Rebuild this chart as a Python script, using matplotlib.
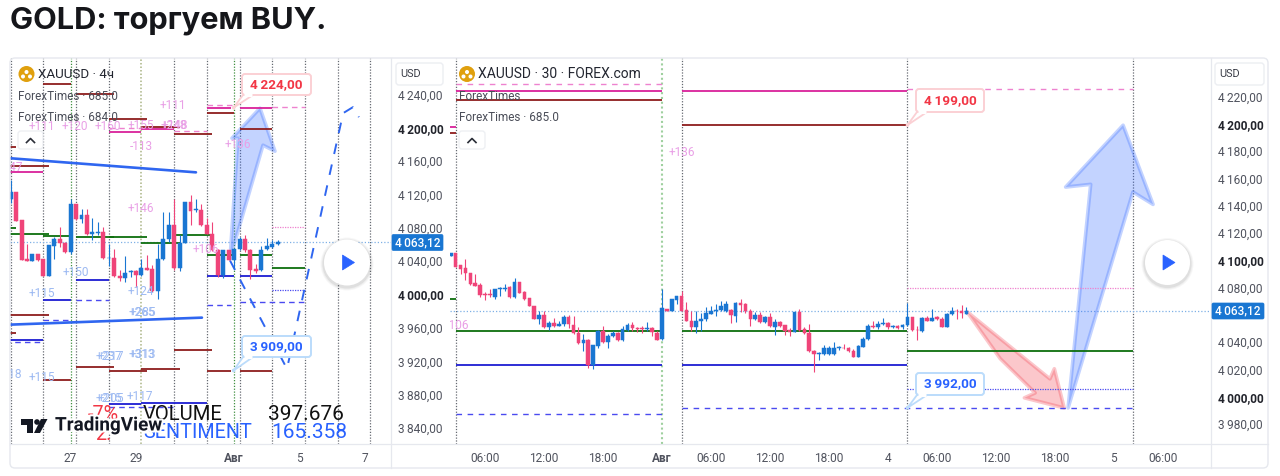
import matplotlib
matplotlib.use("Agg")
import matplotlib.pyplot as plt
import matplotlib.patheffects as pe
from matplotlib.patches import FancyBboxPatch, Polygon, Circle

plt.rcParams['font.family'] = ['Roboto', 'DejaVu Sans']

# ---------- data: left chart (4h) ----------
L_OPEN = [4114.9,4122.9,4088.9,4042.1,4040.1,4048.1,4042.1,4021.7,4058.1,4066.1,4061.7,4050.9,4108.9,4090.9,4094.9,4072.9,4074.1,4074.9,4043.3,4044.1,4022.1,4020.1,4027.3,4027.7,4023.7,4032.1,4030.9,4004.9,4042.1,4066.9,4083.7,4032.1,4061.7,4110.9,4100.9,4101.7,4082.9,4072.9,4052.9,4022.9,4052.9,4041.7,4054.9,4066.9,4053.7,4030.9,4028.9,4054.1,4056.9,4060.9]
L_HIGH = [4136.9,4122.9,4088.9,4060.9,4048.1,4048.9,4042.1,4058.9,4068.9,4080.9,4062.5,4114.9,4108.9,4102.9,4102.9,4092.1,4086.9,4080.9,4060.9,4054.9,4028.9,4045.7,4029.7,4028.9,4042.9,4046.9,4034.9,4060.9,4098.9,4098.9,4114.9,4070.9,4110.9,4119.7,4114.9,4108.9,4092.1,4086.9,4054.9,4052.9,4053.7,4054.9,4068.9,4070.9,4054.9,4036.1,4057.7,4068.1,4065.7,4064.9]
L_LOW = [4109.7,4088.1,4040.9,4039.7,4040.1,4040.1,4021.7,4021.7,4042.9,4056.9,4049.7,4048.9,4089.7,4085.7,4070.9,4064.9,4070.9,4042.9,4033.7,4020.9,4016.9,4014.9,4020.9,4009.7,4021.7,4028.9,4002.9,3994.9,4040.9,4062.9,4028.9,4028.1,4061.7,4082.9,4098.9,4082.1,4072.1,4052.1,4020.9,4020.1,4040.9,4032.1,4053.7,4050.9,4018.9,4025.7,4028.1,4052.9,4056.1,4059.7]
L_CLOSE = [4122.9,4088.1,4040.9,4039.7,4048.1,4040.9,4021.7,4058.9,4066.1,4061.7,4050.9,4108.9,4090.9,4094.9,4072.9,4074.9,4074.9,4043.7,4044.1,4021.7,4020.1,4026.1,4028.1,4023.7,4031.7,4029.7,4004.9,4042.9,4066.9,4083.7,4032.1,4061.7,4110.9,4100.1,4102.1,4082.9,4072.9,4052.9,4022.9,4052.9,4041.7,4054.9,4066.9,4053.7,4029.7,4028.1,4053.7,4057.7,4060.1,4063.12]

# ---------- data: right chart (30m); first bar sits at index -1 ----------
R_OPEN = [4103.5,4105.7,4096.2,4094.2,4091.0,4083.7,4081.7,4075.1,4075.1,4073.4,4079.0,4079.3,4080.3,4072.9,4084.2,4076.8,4072.2,4066.6,4057.3,4060.2,4050.9,4054.3,4052.1,4053.1,4058.2,4052.9,4046.5,4039.6,4041.9,4023.5,4037.5,4048.5,4039.9,4044.3,4046.5,4041.9,4049.2,4052.9,4050.4,4050.2,4049.9,4050.2,4047.0,4042.1,4064.6,4062.6,4071.0,4073.9,4063.4,4055.8,4051.4,4055.3,4056.8,4060.9,4062.6,4063.6,4063.1,4063.6,4059.5,4068.5,4068.0,4063.1,4056.8,4060.2,4054.6,4058.7,4051.4,4054.8,4052.6,4048.9,4047.5,4062.2,4049.7,4046.5,4033.8,4031.3,4031.6,4031.3,4031.1,4035.5,4036.0,4036.0,4033.3,4029.4,4036.7,4042.3,4051.9,4051.1,4053.3,4054.3,4050.9,4051.6,4050.9,4052.4,4058.2,4049.2,4048.0,4057.8,4055.8,4058.2,4057.3,4051.4,4060.4,4063.1,4062.6,4060.9]
R_HIGH = [4105.7,4105.7,4096.9,4101.0,4091.0,4090.0,4083.7,4076.6,4079.0,4079.3,4080.7,4082.7,4081.5,4087.1,4084.2,4077.8,4072.2,4066.6,4063.1,4063.1,4055.8,4057.8,4055.8,4059.7,4060.2,4059.2,4050.9,4046.0,4042.3,4038.2,4048.9,4052.1,4046.0,4048.0,4047.2,4052.1,4053.8,4054.6,4051.4,4051.9,4054.6,4051.4,4048.5,4079.0,4064.6,4071.7,4073.9,4077.8,4069.2,4062.6,4062.6,4061.2,4066.1,4066.8,4068.0,4070.5,4070.5,4064.4,4069.5,4071.7,4068.5,4064.4,4061.9,4061.9,4059.2,4061.2,4057.0,4055.8,4052.9,4050.4,4062.2,4064.4,4051.4,4053.3,4034.3,4032.6,4037.9,4037.5,4039.9,4037.5,4038.7,4036.7,4035.0,4038.2,4043.6,4053.3,4055.3,4055.3,4057.8,4054.8,4052.6,4052.6,4053.3,4068.5,4058.7,4052.1,4058.2,4059.5,4064.4,4059.5,4058.2,4061.2,4066.1,4064.4,4067.5,4066.1]
R_LOW = [4103.2,4095.4,4090.0,4085.6,4082.2,4081.2,4072.9,4071.0,4073.4,4071.7,4074.1,4077.8,4072.4,4072.4,4075.9,4071.0,4066.6,4057.3,4053.3,4050.4,4048.9,4051.4,4051.9,4052.1,4050.4,4046.0,4038.7,4033.8,4021.5,4020.3,4035.7,4039.6,4035.7,4043.6,4041.1,4041.1,4048.0,4048.5,4047.2,4047.0,4048.5,4044.8,4041.6,4041.9,4062.6,4062.6,4068.0,4062.6,4055.3,4048.5,4046.5,4048.5,4055.8,4060.7,4059.5,4063.1,4061.9,4053.8,4054.6,4061.9,4061.2,4052.1,4056.3,4054.1,4054.3,4051.4,4045.5,4051.4,4045.3,4044.5,4047.2,4048.5,4046.0,4032.6,4018.1,4026.9,4030.9,4030.9,4030.9,4034.5,4035.0,4032.8,4028.9,4028.9,4036.2,4041.6,4050.4,4049.7,4052.9,4049.4,4050.4,4049.4,4049.7,4052.1,4048.5,4041.6,4047.5,4055.3,4055.3,4056.3,4050.9,4050.9,4060.2,4057.0,4057.8,4060.7]
R_CLOSE = [4105.2,4095.4,4093.7,4090.8,4082.7,4081.2,4074.9,4074.6,4074.6,4079.3,4079.5,4080.0,4072.9,4084.2,4076.1,4071.4,4066.6,4057.3,4060.2,4050.9,4054.3,4051.9,4053.3,4058.2,4053.1,4046.5,4039.6,4041.9,4023.5,4038.2,4048.5,4039.9,4044.3,4046.5,4041.6,4049.7,4052.9,4050.2,4049.9,4049.7,4050.4,4047.2,4041.9,4065.1,4062.6,4071.7,4073.9,4063.1,4055.8,4051.4,4055.8,4057.3,4061.2,4062.9,4063.6,4066.8,4068.0,4059.7,4068.5,4067.5,4062.6,4057.0,4060.2,4054.6,4058.7,4051.6,4054.6,4052.1,4048.0,4047.5,4062.2,4048.9,4046.5,4033.3,4031.1,4031.8,4035.5,4035.5,4035.5,4036.2,4035.5,4033.3,4029.4,4037.2,4042.3,4052.1,4050.9,4053.3,4054.3,4050.9,4051.6,4050.4,4052.4,4058.2,4048.9,4048.7,4057.8,4055.8,4058.0,4057.0,4051.4,4060.7,4063.1,4062.6,4061.2,4063.12]

LAST_PRICE = 4063.12

L_TIME_TICKS = [11, 23, 41, 53, 65]
L_TIME_LABELS = ['27', '29', 'Авг', '5', '7']
R_TIME_TICKS = [6, 18, 30, 42, 52, 64, 76, 88, 98, 110, 122, 134, 144]
R_TIME_LABELS = ['06:00', '12:00', '18:00', 'Авг', '06:00', '12:00', '18:00', '4', '06:00', '12:00', '18:00', '5', '06:00']
L_PRICE_TICKS = [3840, 3880, 3920, 3960, 4000, 4040, 4080, 4120, 4160, 4200, 4240]
L_PRICE_BOLD = [4000, 4200]
R_PRICE_TICKS = [3980, 4000, 4020, 4040, 4060, 4080, 4100, 4120, 4140, 4160, 4180, 4200, 4220]
R_PRICE_HIDE = [4060]
R_PRICE_BOLD = [4000, 4100, 4200]
L_SESSIONS = [0, 6, 12, 18, 30, 36, 42, 48, 54, 60, 66, 70]
L_SESSIONS_GREEN = [11, 41]
L_SESSIONS_OLIVE = [24]
R_SESSIONS = [0, 46, 92, 138]
R_SESSIONS_GREEN = [42]

# level segments: (first bar, last bar, price)
L_RED = [(6,11,4252.3),(12,19,4240.2),(18,25,4210.2),(24,31,4200.6),(30,37,4192.2),(-1,1,4176.6),(-1,7,4153.8),(36,41,4217.4),(42,48,4198.2),(-1,7,3976.0),(-1,1,3954.4),(12,19,3913.5),(18,25,3908.7),(24,31,3911.1),(30,37,3933.9),(36,40.5,3909),(42,48,3909),(6,11,3897.9)]
L_PINK = [(18,24,4194.6),(24,30,4198.2),(-1,6,4146.5),(36,40.5,4224),(42,48,4224)]
L_PINK_DASH = [(36,41,4227.0),(48,54,4224.6),(30,36,4195.8),(18,24,4199.4)]
L_PINK_DOT = [(48,54,4080.5)]
L_GREEN = [(-1,1,4079.3),(-1,7,4072.1),(6,11,4069.7),(12,19,4068.5),(18,25,4069.1),(24,31,4061.3),(30,36.5,4070.9),(36,41,4048.0),(42,48,4048.0),(48,54,4032.4)]
L_BLUE = [(12,18,4018.0),(6,11,3994.0),(-1,6,3945.9),(18,24,3869.1),(24,36,3870.3),(36,41,4022.8),(42,48,4022.8)]
L_BLUE_DASH = [(12,18,3994.0),(6,11,3970.0),(-1,6,3943.5),(18,30,3865.5),(36,40.5,3988.0),(42,54,3991.6)]
L_BLUE_DOT = [(48,54,4006.0)]
L_TRENDS = [((-0.12,34.0),(4163.4,4146.5)), ((-0.12,35.1),(3964.0,3972.4))]
L_PATH_X = [40.25, 50.7, 61.0, 62.8, 63.9]
L_PATH_Y = [4040.8, 3911.1, 4217.4, 4224.6, 4212.6]
L_ARROW_X = [40.25, 41.7, 40.6, 45.75, 48.5, 46.3]
L_ARROW_Y = [4043.0, 4187.4, 4187.4, 4223.4, 4171.8, 4179.0]

R_RED = [(0,42,4217.3),(46,92,4199),(-2,0,4193)]
R_PINK = [(0,42,4224),(46,92,4224),(-2,0,4197.4)]
R_PINK_DASH = [(0,42,4229.0),(92,138,4225.3)]
R_PINK_DOT = [(92,138,4080.0)]
R_GREEN = [(0,42,4048.4),(46,92,4048.4),(92,138,4033.8),(-2,0,4071.9)]
R_BLUE = [(0,42,4023.5),(46,92,4023.5)]
R_BLUE_DASH = [(0,42,3987.5),(46,138,3992)]
R_BLUE_DOT = [(92,138,4005.9)]
R_RED_ARROW_X = [104.1, 121.0, 121.9, 123.9, 115.8, 118.0, 110.9]
R_RED_ARROW_Y = [4062.4, 4013.2, 4020.6, 3991.9, 3999.3, 4002.9, 4027.9]
R_BLUE_ARROW_X = [124.7, 129.3, 124.2, 135.9, 142.0, 137.9]
R_BLUE_ARROW_Y = [3991.9, 4155.6, 4153.6, 4198.9, 4140.9, 4150.0]

# marker labels: (bar, price, text)
L_PINK_LABELS = [(29.8,4226,'+111'),(5.8,4201,'+111'),(11.8,4201,'+120'),(17.9,4201,'+160'),(23.9,4203,'+155'),(29.9,4203,'+248'),(30.1,4203,'+148'),(23.9,4177,'-113'),(41.7,4180,'+136'),(-0.2,4152,'+147'),(23.9,4103,'+146'),(35.8,4054,'+106')]
L_BLUE_LABELS = [(12,4026,'+150'),(5.8,4001,'+115'),(23.9,4004,'+124'),(24,3978,'+265'),(24.3,3978,'+285'),(18,3926,'+237'),(18.3,3926,'+217'),(24,3928,'+313'),(24.2,3928,'+313'),(-0.3,3904,'+118'),(5.8,3901,'+115'),(18,3875,'+215'),(18.3,3875,'+205'),(23.7,3878,'+117')]
R_PINK_LABELS = [(46,4179,'+136'),(0.1,4052.5,'+106')]

L_CALLOUT = [(40.9, 4224, '4 224,00'), (40.9, 3909, '3 909,00')]
R_CALLOUT = [(92, 4199, '4 199,00'), (92, 3992, '3 992,00')]

TITLE = 'GOLD: торгуем BUY.'

# ---------- styles ----------
UP, DOWN = '#1976d2', '#ef4479'
C_RED, C_PINK, C_GREEN, C_BLUE = '#8e1c1c', '#d9219a', '#0d6e0d', '#1c1cd2'
C_PINK_D, C_BLUE_D = '#ee82cf', '#4a4af0'
TXT, TXT2, AXC = '#3a3d47', '#50535e', '#e6e8ee'
ARROW_B, ARROW_R = '#2962ff', '#f23645'

W, H = 1280, 476
fig = plt.figure(figsize=(W/100, H/100), dpi=100, facecolor='white')

def box(x0, y0, x1, y1):
    return [x0/W, 1-y1/H, (x1-x0)/W, (y1-y0)/H]

def setup(ax, ticks, labels, pticks, bold, hide, xtick_font=8.6):
    for s in ax.spines.values():
        s.set_visible(False)
    ax.set_facecolor('none')
    ax.yaxis.tick_right()
    ax.set_xticks(ticks)
    ax.set_xticklabels(labels, fontsize=xtick_font, color=TXT2)
    for lab, t in zip(ax.get_xticklabels(), labels):
        if t == 'Авг':
            lab.set_fontweight('bold')
    show = [p for p in pticks if p not in hide]
    ax.set_yticks(show)
    ax.set_yticklabels([f'{p//1000}\u2009{p%1000:03d},00' for p in show], fontsize=8.6, color=TXT2)
    for lab, p in zip(ax.get_yticklabels(), show):
        if p in bold:
            lab.set_fontweight('bold')
            lab.set_color('#22242c')
    ax.tick_params(axis='both', length=0)
    ax.tick_params(axis='x', pad=6)
    ax.tick_params(axis='y', pad=4.6)

def candles(ax, start, o, h, l, c, w):
    xs = list(range(start, start+len(o)))
    cols = [UP if cc >= oo else DOWN for oo, cc in zip(o, c)]
    ax.vlines(xs, l, h, colors=cols, lw=0.8, zorder=5)
    ax.bar(xs, [cc-oo for oo, cc in zip(o, c)], bottom=o, width=w, color=cols,
           edgecolor=cols, lw=0.35, zorder=6)

def segs(ax, items, color, lw=1.3, ls='-', alpha=1, z=4):
    for a, b, p in items:
        ax.plot([a, b], [p, p], color=color, lw=lw, ls=ls, alpha=alpha, zorder=z,
                solid_capstyle='butt', dash_capstyle='butt')

def sessions(ax, xs, color='#666a72', lw=0.9, ls=(0, (1, 1.3))):
    for x in xs:
        ax.axvline(x, color=color, lw=lw, ls=ls, zorder=1)

def labels(ax, items, color):
    for x, p, t in items:
        ax.text(x, p, t, color=color, fontsize=8.6, ha='center', va='center', zorder=7, clip_on=True)

def arrow(ax, xs, ys, color):
    ax.add_patch(Polygon(list(zip(xs, ys)), closed=True, facecolor=color, alpha=0.28,
                         edgecolor='none', zorder=3))
    ax.add_patch(Polygon(list(zip(xs, ys)), closed=True, fill=False, edgecolor=color, alpha=0.28,
                         lw=2.6, joinstyle='round', zorder=3))

# ---------- left chart ----------
axL = fig.add_axes(box(10, 58, 392, 444))
axL.set_xlim(-0.12, 69.97)
axL.set_ylim(3821.0, 4283.5)
setup(axL, L_TIME_TICKS, L_TIME_LABELS, L_PRICE_TICKS, L_PRICE_BOLD, [])
sessions(axL, L_SESSIONS)
sessions(axL, L_SESSIONS_GREEN, color='#3f8f3f')
sessions(axL, L_SESSIONS_OLIVE, color='#aab485', lw=1.1)
axL.axhline(LAST_PRICE, color='#7fb0e6', lw=0.9, ls=(0, (1, 1.6)), zorder=2)
segs(axL, L_RED, C_RED); segs(axL, L_PINK, C_PINK); segs(axL, L_GREEN, C_GREEN); segs(axL, L_BLUE, C_BLUE)
segs(axL, L_PINK_DASH, C_PINK_D, 1.0, (0, (4, 3))); segs(axL, L_BLUE_DASH, C_BLUE_D, 1.0, (0, (4, 3)))
segs(axL, L_PINK_DOT, C_PINK_D, 0.9, (0, (1, 1))); segs(axL, L_BLUE_DOT, C_BLUE_D, 0.9, (0, (1, 1)))
for xs, ys in L_TRENDS:
    axL.plot(xs, ys, color='#2f66f0', lw=1.9, zorder=5, solid_capstyle='round')
axL.plot(L_PATH_X, L_PATH_Y, color='#2f66f0', lw=1.4, ls=(0, (5.5, 5.5)), zorder=5)
arrow(axL, L_ARROW_X, L_ARROW_Y, ARROW_B)
candles(axL, 0, L_OPEN, L_HIGH, L_LOW, L_CLOSE, 0.72)
labels(axL, L_PINK_LABELS, '#e9a0e6'); labels(axL, L_BLUE_LABELS, '#9dbaf2')

# ---------- right chart ----------
axR = fig.add_axes(box(450, 58, 1212, 444))
axR.set_xlim(-1.15, 154.0)
axR.set_ylim(3965.5, 4248.1)
setup(axR, R_TIME_TICKS, R_TIME_LABELS, R_PRICE_TICKS, R_PRICE_BOLD, R_PRICE_HIDE)
sessions(axR, R_SESSIONS)
sessions(axR, R_SESSIONS_GREEN, color='#9fd09f', lw=1.5)
axR.axhline(LAST_PRICE, color='#7fb0e6', lw=0.9, ls=(0, (1, 1.6)), zorder=2)
segs(axR, R_RED, C_RED); segs(axR, R_PINK, C_PINK); segs(axR, R_GREEN, C_GREEN); segs(axR, R_BLUE, C_BLUE)
segs(axR, R_PINK_DASH, C_PINK_D, 1.0, (0, (4, 4))); segs(axR, R_BLUE_DASH, C_BLUE_D, 1.0, (0, (4, 4)))
segs(axR, R_PINK_DOT, C_PINK_D, 0.9, (0, (1, 1))); segs(axR, R_BLUE_DOT, C_BLUE_D, 0.9, (0, (1, 1)))
arrow(axR, R_RED_ARROW_X, R_RED_ARROW_Y, ARROW_R)
arrow(axR, R_BLUE_ARROW_X, R_BLUE_ARROW_Y, ARROW_B)
candles(axR, -1, R_OPEN, R_HIGH, R_LOW, R_CLOSE, 0.74)
labels(axR, R_PINK_LABELS, '#e9a0e6')

# ---------- overlay in pixel space for the widget chrome ----------
ov = fig.add_axes([0, 0, 1, 1], zorder=10)
ov.set_xlim(0, W); ov.set_ylim(H, 0); ov.axis('off'); ov.patch.set_alpha(0)

def rbox(x0, y0, x1, y1, fc='white', ec=AXC, lw=1, r=3, z=2, alpha=1):
    ov.add_patch(FancyBboxPatch((x0+r, y0+r), x1-x0-2*r, y1-y0-2*r,
                                boxstyle=f'round,pad={r},rounding_size={r}',
                                fc=fc, ec=ec, lw=lw, zorder=z, alpha=alpha))

def to_px(ax, x, p):
    dx, dy = ax.transData.transform((x, p))
    return dx, H-dy

ov.text(10, 21, TITLE, fontsize=22.2, fontweight='bold', family=['Inter', 'DejaVu Sans'], color='#15161a', ha='left', va='center')

# frame
rbox(10, 58, 1268, 468, fc='none', ec=AXC, r=5, z=1)
ov.plot([10, 1268], [444, 444], color=AXC, lw=0.9, zorder=1)
ov.plot([391, 391], [58, 468], color=AXC, lw=0.9, zorder=1)
ov.plot([1211, 1211], [58, 468], color=AXC, lw=0.9, zorder=1)

# USD boxes and last price tags
for x0, x1 in [(396, 443), (1215, 1264)]:
    rbox(x0, 63, x1, 85, ec='#eceef2')
    ov.text(x0+4, 74, 'USD', fontsize=7.8, color=TXT, va='center', ha='left')
for x0, x1, yc in [(392, 443, 242.5), (1212, 1264, 311)]:
    rbox(x0, yc-8, x1, yc+8, fc=UP, ec=UP, lw=0.5, r=1.5, z=3)
    ov.text((x0+x1)/2, yc, '4\u2009063,12', fontsize=8.6, color='white', fontweight='medium',
            ha='center', va='center', zorder=4)

# legends
for cx, tx, name, fs in [(26.5, 38, 'XAUUSD · 4ч', 9.6), (467, 478, 'XAUUSD · 30 · FOREX.com', 10.0)]:
    ov.add_patch(Circle((cx, 74), 8, fc='#e0a00e', ec='none', zorder=3))
    ov.add_patch(Circle((cx, 72), 2, fc='white', ec='none', zorder=4))
    ov.add_patch(Circle((cx-3.5, 76.5), 2, fc='white', ec='none', zorder=4))
    ov.add_patch(Circle((cx+3.5, 76.5), 2, fc='white', ec='none', zorder=4))
    ov.text(tx, 74.5, name, fontsize=fs, color='#232630', ha='left', va='center', zorder=4)
for tx, y, t in [(18, 96, 'ForexTimes · 685.0'), (18, 117.5, 'ForexTimes · 684.0'),
                 (459, 96, 'ForexTimes'), (459, 117.5, 'ForexTimes · 685.0')]:
    ov.text(tx, y, t, fontsize=8.5, color='#4a4d58', ha='left', va='center', zorder=4)
for x0, x1 in [(18, 43), (459, 485)]:
    rbox(x0, 131, x1, 149, ec='#eceef2', alpha=0.9)
    xc = (x0+x1)/2
    ov.plot([xc-4, xc, xc+4], [142.5, 138.5, 142.5], color='#2a2d36', lw=1.2, zorder=4)

# callouts
def callout(ax, item, box_x, box_y, color, edge):
    x, p, t = item
    tx, ty = to_px(ax, x, p)
    x0, x1 = box_x
    y0, y1 = box_y
    by = y1
    tri = [(x0+1, by), (tx, ty), (x0+11, by)]
    rbox(x0, y0, x1, y1, fc='white', ec=edge, lw=1.4, r=3, z=8)
    ov.add_patch(Polygon(tri, closed=True, fc='white', ec=edge, lw=1.3, zorder=8, joinstyle='round'))
    ov.plot([x0+2, x0+10], [by, by], color='white', lw=2.2, zorder=8.5, solid_capstyle='butt')
    ov.add_patch(Circle((tx, ty), 1.8, fc=edge, ec='none', zorder=8.5))
    ov.text((x0+x1)/2, (y0+y1)/2, t.replace(' ', '\u2009'), color=color, fontsize=9.7, fontweight='bold',
            ha='center', va='center', zorder=9)

callout(axL, L_CALLOUT[0], (242, 311), (74, 95), '#f23645', '#fbd0d4')
callout(axL, L_CALLOUT[1], (242, 311), (336, 357), '#2962ff', '#bbdcfb')
callout(axR, R_CALLOUT[0], (916, 984), (89, 112), '#f23645', '#fbd0d4')
callout(axR, R_CALLOUT[1], (916, 984), (373, 395), '#2962ff', '#bbdcfb')

# play buttons
for cx, cy, r in [(347, 262.5, 23), (1167.5, 262.5, 22.5)]:
    for k, a in [(3.5, 0.03), (2.5, 0.04), (1.5, 0.06)]:
        ov.add_patch(Circle((cx, cy+1.5), r+k, fc='#000000', ec='none', alpha=a, zorder=6))
    ov.add_patch(Circle((cx, cy), r, fc='white', ec='none', zorder=6.5))
    ov.add_patch(Polygon([(cx-4.5, cy-7.5), (cx+7.5, cy), (cx-4.5, cy+7.5)], closed=True, fc='#2962ff', ec='#2962ff', lw=0.5, zorder=7))

# overlay words of the left chart
for x, y, t, c, fs in [(88, 414, '-7%', '#f23645', 14.2), (143, 415, 'VOLUME', '#111111', 14.6), (268, 415, '397.676', '#111111', 15.0),
                       (95, 434, '2.', '#f23645', 14.2), (143, 432, 'SENTIMENT', '#2962ff', 14.2), (271, 432, '165.358', '#2962ff', 15.0)]:
    ov.text(x, y, t, fontsize=fs, color=c, ha='left', va='center', zorder=5)

# TradingView mark
halo = [pe.withStroke(linewidth=3, foreground='white')]
ov.text(55, 425.5, 'TradingView', fontsize=13.6, fontweight='semibold', color='#131722', ha='left', va='center', zorder=8, path_effects=halo)
ov.add_patch(Polygon([(21, 419), (33, 419), (33, 433), (27, 433), (27, 425), (21, 425)], closed=True, fc='#131722', ec='none', zorder=8))
ov.add_patch(Circle((37, 422), 2.8, fc='#131722', ec='none', zorder=8))
ov.add_patch(Polygon([(41, 419), (47.5, 419), (40, 433), (34, 433)], closed=True, fc='#131722', ec='none', zorder=8))

fig.savefig('out.png', dpi=100, facecolor='white')
